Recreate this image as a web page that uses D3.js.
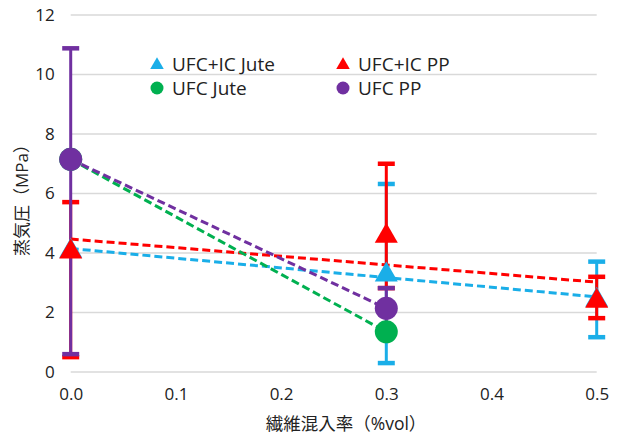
<html>
<head>
<script src="https://d3js.org/d3.v7.min.js"></script>
<style>
body { margin: 0; background: #fff; }
text { font-family: "Open Sans", "Noto Sans CJK JP", sans-serif; fill: #222; }
</style>
</head>
<body>
<div id="chart"></div>
<script>
// fibre ratio (%vol)
var xValues = [0.0, 0.3, 0.5];
var xTicks = [0.0, 0.1, 0.2, 0.3, 0.4, 0.5];
var yTicks = [0, 2, 4, 6, 8, 10, 12];

// vapour pressure (MPa), error bar ends
var icJute = [4.1, 3.3, 2.45];
var icJuteHi = [4.1, 6.32, 3.71];
var icJuteLo = [4.1, 0.3, 1.17];

var icPP = [4.07, 4.6, 2.42];
var icPPHi = [5.71, 7.0, 3.2];
var icPPLo = [0.5, 2.82, 1.81];

var ufcJute = [7.15, 1.35, null];
var ufcPP = [7.15, 2.14, null];
var ufcPPHi = [10.88, 2.82, null];
var ufcPPLo = [0.6, 1.48, null];

var series = [
  { name: "UFC+IC Jute", color: "#1aaee8", shape: "tri", y: icJute, hi: icJuteHi, lo: icJuteLo },
  { name: "UFC+IC PP", color: "#ff0000", shape: "tri", y: icPP, hi: icPPHi, lo: icPPLo },
  { name: "UFC Jute", color: "#00b050", shape: "circ", y: ufcJute, hi: null, lo: null },
  { name: "UFC PP", color: "#7030a0", shape: "circ", y: ufcPP, hi: ufcPPHi, lo: ufcPPLo }
];

var width = 618, height = 438;
var svg = d3.select("#chart").append("svg").attr("width", width).attr("height", height);

var x = d3.scaleLinear().domain([0, 0.5]).range([70.7, 596.7]);
var y = d3.scaleLinear().domain([0, 12]).range([372, 15]);

// gridlines
svg.append("g").selectAll("line").data(yTicks).enter().append("line")
  .attr("x1", x(0)).attr("x2", x(0.5))
  .attr("y1", function(d) { return y(d); }).attr("y2", function(d) { return y(d); })
  .attr("stroke", "#d9d9d9").attr("stroke-width", 1.5);

// axes (labels only)
var yAxis = svg.append("g").attr("transform", "translate(" + (x(0) - 10) + ",0)")
  .call(d3.axisLeft(y).tickValues(yTicks).tickSize(0).tickPadding(6).tickFormat(d3.format("d")));
yAxis.select(".domain").remove();
yAxis.selectAll("text").style("font-size", "17px").attr("fill", "#222");

var xAxis = svg.append("g").attr("transform", "translate(0," + (y(0) + 10) + ")")
  .call(d3.axisBottom(x).tickValues(xTicks).tickSize(0).tickPadding(6).tickFormat(d3.format(".1f")));
xAxis.select(".domain").remove();
xAxis.selectAll("text").style("font-size", "17px").attr("fill", "#222");

svg.append("text").attr("x", 346).attr("y", 430).attr("text-anchor", "middle")
  .style("font-size", "17.5px").text("繊維混入率（%vol）");
svg.append("text").attr("transform", "translate(28,196) rotate(-90)").attr("text-anchor", "middle")
  .style("font-size", "17px").text("蒸気圧（MPa）");

function pts(s) {
  return xValues.map(function(v, i) { return { x: v, y: s.y[i], hi: s.hi ? s.hi[i] : null, lo: s.lo ? s.lo[i] : null }; })
    .filter(function(p) { return p.y != null; });
}

// error bars
series.forEach(function(s) {
  if (!s.hi) return;
  var g = svg.append("g");
  pts(s).forEach(function(p) {
    if (p.hi == null || p.hi === p.lo) return;
    g.append("line").attr("x1", x(p.x)).attr("x2", x(p.x)).attr("y1", y(p.hi)).attr("y2", y(p.lo))
      .attr("stroke", s.color).attr("stroke-width", 3);
    [p.hi, p.lo].forEach(function(v) {
      g.append("line").attr("x1", x(p.x) - 8.5).attr("x2", x(p.x) + 8.5).attr("y1", y(v)).attr("y2", y(v))
        .attr("stroke", s.color).attr("stroke-width", 4.5);
    });
  });
});

// linear trendlines (least squares over each series)
series.forEach(function(s) {
  var p = pts(s);
  var mx = d3.mean(p, function(d) { return d.x; }), my = d3.mean(p, function(d) { return d.y; });
  var sxy = d3.sum(p, function(d) { return (d.x - mx) * (d.y - my); });
  var sxx = d3.sum(p, function(d) { return (d.x - mx) * (d.x - mx); });
  var b = sxy / sxx, a = my - b * mx;
  var x0 = d3.min(p, function(d) { return d.x; }), x1 = d3.max(p, function(d) { return d.x; });
  svg.append("line").attr("x1", x(x0)).attr("y1", y(a + b * x0)).attr("x2", x(x1)).attr("y2", y(a + b * x1))
    .attr("stroke", s.color).attr("stroke-width", 3).attr("stroke-dasharray", "8,4");
});

var tri = d3.symbol().type(d3.symbolTriangle);

// markers
series.forEach(function(s) {
  var g = svg.append("g");
  pts(s).forEach(function(p) {
    if (s.shape === "tri") {
      g.append("path").attr("d", tri.size(230)())
        .attr("transform", "translate(" + x(p.x) + "," + (y(p.y) + 1) + ")").attr("fill", s.color);
    } else {
      g.append("circle").attr("cx", x(p.x)).attr("cy", y(p.y)).attr("r", 11.5).attr("fill", s.color);
    }
  });
});

// legend
var legendPos = [[157, 64], [343, 64], [157, 88], [343, 88]];
series.forEach(function(s, i) {
  var lx = legendPos[i][0], ly = legendPos[i][1];
  if (s.shape === "tri") {
    svg.append("path").attr("d", tri.size(80)()).attr("transform", "translate(" + lx + "," + (ly + 1) + ")").attr("fill", s.color);
  } else {
    svg.append("circle").attr("cx", lx).attr("cy", ly).attr("r", 6.5).attr("fill", s.color);
  }
  svg.append("text").attr("x", lx + 15).attr("y", ly + 6.5).style("font-size", "19px").text(s.name);
});
</script>
</body>
</html>
